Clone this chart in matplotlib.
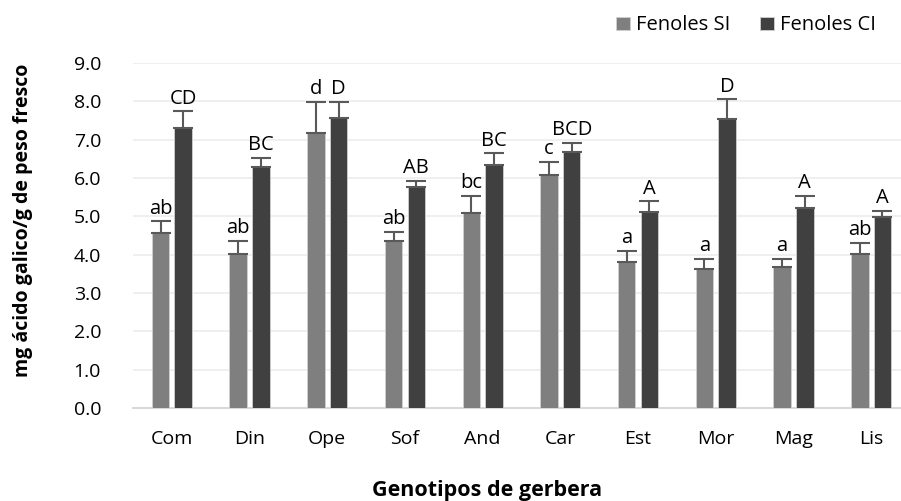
import matplotlib
matplotlib.use('Agg')
import matplotlib.pyplot as plt
import numpy as np

plt.rcParams['font.family'] = ['Open Sans', 'DejaVu Sans']

genotipos = ['Com', 'Din', 'Ope', 'Sof', 'And', 'Car', 'Est', 'Mor', 'Mag', 'Lis']
fenolesSI = [4.57, 4.01, 7.18, 4.36, 5.10, 6.07, 3.81, 3.62, 3.69, 4.02]
errSI = [0.30, 0.35, 0.80, 0.23, 0.44, 0.36, 0.29, 0.28, 0.20, 0.29]
fenolesCI = [7.31, 6.28, 7.57, 5.77, 6.34, 6.67, 5.11, 7.54, 5.23, 4.97]
errCI = [0.43, 0.25, 0.42, 0.15, 0.30, 0.25, 0.28, 0.51, 0.30, 0.18]
letrasSI = ['ab', 'ab', 'd', 'ab', 'bc', 'c', 'a', 'a', 'a', 'ab']
letrasCI = ['CD', 'BC', 'D', 'AB', 'BC', 'BCD', 'A', 'D', 'A', 'A']

colorSI = '#7f7f7f'
colorCI = '#404040'
fs = 14

fig = plt.figure(figsize=(9.01, 5.01), dpi=100)
#             left,bottom,width,height
ax = fig.add_axes([133/901, 93/501, 777/901, 345/501])

x = np.arange(len(genotipos))
w = 0.225
off = 0.146

ekw = dict(ecolor='#595959', elinewidth=1.5, capsize=7, capthick=1.5)
ax.bar(x - off, fenolesSI, w, color=colorSI, edgecolor='#d0d0d0', linewidth=0.6,
       yerr=[np.zeros(len(errSI)), errSI], error_kw=ekw, label='Fenoles SI', zorder=3)
ax.bar(x + off, fenolesCI, w, color=colorCI, edgecolor='#d0d0d0', linewidth=0.6,
       yerr=[np.zeros(len(errCI)), errCI], error_kw=ekw, label='Fenoles CI', zorder=3)

for i in range(len(genotipos)):
    ax.annotate(letrasSI[i], (x[i] - off, fenolesSI[i] + errSI[i]), xytext=(0, 5.5),
                textcoords='offset points', ha='center', va='baseline', fontsize=14.5, color='#000000')
    ax.annotate(letrasCI[i], (x[i] + off, fenolesCI[i] + errCI[i]), xytext=(0, 5.5),
                textcoords='offset points', ha='center', va='baseline', fontsize=14.5, color='#000000')

ax.set_xlim(-0.5, 9.5)
ax.set_ylim(0, 9)
ax.set_yticks(np.arange(0, 9.01, 1.0))
ax.set_yticklabels(['%.1f' % v for v in np.arange(0, 9.01, 1.0)])
ax.set_xticks(x)
ax.set_xticklabels(genotipos)
ax.tick_params(axis='both', length=0, labelsize=fs, colors='#000000')
ax.tick_params(axis='x', pad=16)
ax.tick_params(axis='y', pad=23)

ax.yaxis.grid(True, color='#ececec', linewidth=1.2, zorder=0)
ax.set_axisbelow(True)
for s in ['top', 'right', 'left']:
    ax.spines[s].set_visible(False)
ax.spines['bottom'].set_color('#d9d9d9')
ax.spines['bottom'].set_linewidth(1.5)

fig.text(23/901, 1 - 220/501, 'mg ácido galico/g de peso fresco', rotation=90,
         ha='center', va='center', fontsize=14, fontweight='bold')
fig.text(487/901, 1 - 496/501, 'Genotipos de gerbera', ha='center', va='baseline',
         fontsize=15.5, fontweight='bold')

fig.legend(loc='center left', bbox_to_anchor=(616/901, 1 - 25.5/501), ncol=2, frameon=False,
           fontsize=14.5, handlelength=0.68, handleheight=0.68, handletextpad=0.3,
           columnspacing=1.5, borderpad=0, borderaxespad=0)

plt.savefig('out.png', dpi=100)
